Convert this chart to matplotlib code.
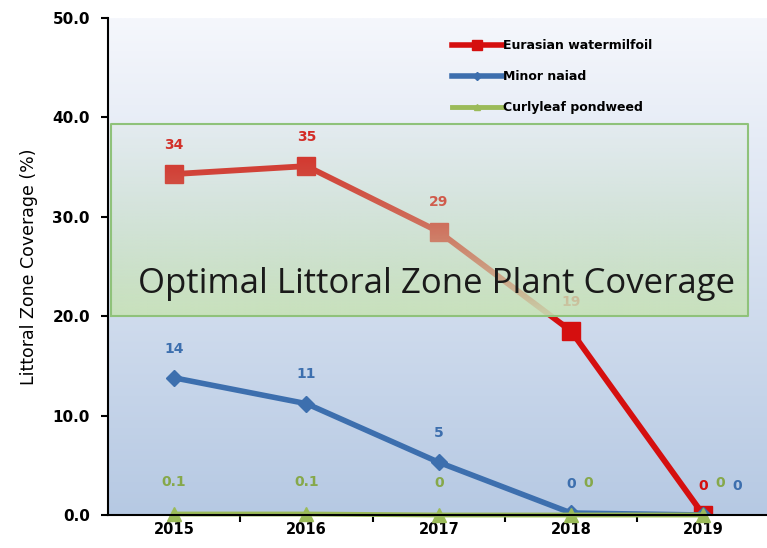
import numpy as np
import matplotlib
matplotlib.use("Agg")
import matplotlib.pyplot as plt
from matplotlib.colors import to_rgb
from matplotlib.lines import Line2D

years = ["2015", "2016", "2017", "2018", "2019"]
milfoil = [34.3, 35.1, 28.5, 18.5, 0.0]
naiad = [13.8, 11.2, 5.3, 0.2, 0.0]
pondweed = [0.1, 0.1, 0.0, 0.0, 0.0]
milfoil_lbl = ["34", "35", "29", "19", "0"]
naiad_lbl = ["14", "11", "5", "0", "0"]
pondweed_lbl = ["0.1", "0.1", "0", "0", "0"]
band_lo, band_hi = 20.0, 39.3
yticks = [0, 10, 20, 30, 40, 50]

fig = plt.figure(figsize=(7.67, 5.48), dpi=100)
ax = fig.add_axes([108/767, 33/548, 1 - 108/767, 497/548])
x = np.arange(len(years))
ax.set_xlim(-0.5, 4.48)
ax.set_ylim(0, 50)

# gradient background
top = np.array(to_rgb("#f5f7fc"))
bot = np.array(to_rgb("#b6c9e3"))
t = np.linspace(0, 1, 256)[:, None]
grad = (top * (1 - t) + bot * t)[:, None, :].repeat(2, axis=1)
ax.imshow(grad, extent=[-0.5, 4.48, 0, 50], aspect="auto", zorder=0, origin="upper")

red = "#d50f0f"
blue = "#3d6fae"
green = "#9bbb59"

ax.plot(x, milfoil, color=red, lw=4.2, marker="s", ms=13, zorder=3, solid_capstyle="butt")
ax.plot(x, naiad, color=blue, lw=4.0, marker="D", ms=8, zorder=3)
ax.plot(x, pondweed, color=green, lw=3.5, marker="^", ms=10, zorder=4, clip_on=False)

# band overlay with gradient alpha
bcol = np.array(to_rgb("#c8e2b8"))
tt = np.linspace(0, 1, 256)
alpha = 0.12 + 0.8 * tt ** 1.3
rgba = np.zeros((256, 2, 4))
rgba[:, :, :3] = bcol
rgba[:, :, 3] = alpha[:, None]
ax.imshow(rgba, extent=[-0.48, 4.34, band_lo, band_hi], aspect="auto", zorder=5, origin="upper")
ax.plot([-0.48, 4.34, 4.34, -0.48, -0.48], [band_lo, band_lo, band_hi, band_hi, band_lo],
        color="#8fc27a", lw=1.5, zorder=5)
ax.text(1.98, 23.2, "Optimal Littoral Zone Plant Coverage", fontsize=25, color="#1a1a1a",
        family="Open Sans", ha="center", va="center", zorder=7)

# data labels
lblfont = dict(fontsize=10, fontweight="bold", ha="center", va="bottom", family="DejaVu Sans")
for i in range(5):
    ax.annotate(milfoil_lbl[i], (x[i], milfoil[i]), xytext=(0, 16), textcoords="offset points",
                color=red, zorder=4, **lblfont)
for i in range(5):
    dx = 24 if i == 4 else 0
    ax.annotate(naiad_lbl[i], (x[i], naiad[i]), xytext=(dx, 16), textcoords="offset points",
                color=blue, zorder=4, **lblfont)
for i in range(5):
    dx = 12 if i >= 3 else 0
    ax.annotate(pondweed_lbl[i], (x[i], pondweed[i]), xytext=(dx, 18), textcoords="offset points",
                color="#86a84a", zorder=4, **lblfont)

ax.set_xticks(x)
ax.set_xticklabels(years, fontweight="bold", fontsize=10.5)
ax.set_xticks(x[:-1] + 0.5, minor=True)
ax.tick_params(axis="x", which="major", length=0, pad=5)
ax.tick_params(axis="x", which="minor", length=5, width=1.5, direction="out")
ax.set_yticks(yticks)
ax.set_yticklabels([f"{v:.1f}" for v in yticks], fontweight="bold", fontsize=11)
ax.tick_params(axis="y", length=5, width=1.5, pad=8)
ax.set_ylabel("Littoral Zone Coverage (%)", fontsize=12.5, labelpad=10)
for s in ["top", "right"]:
    ax.spines[s].set_visible(False)
for s in ["left", "bottom"]:
    ax.spines[s].set_linewidth(1.5)
    ax.spines[s].set_zorder(6)

handles = [Line2D([], [], color=red, lw=4, marker="s", ms=7),
           Line2D([], [], color=blue, lw=4, marker="D", ms=4),
           Line2D([], [], color=green, lw=3.5, marker="^", ms=5)]
leg = ax.legend(handles, ["Eurasian watermilfoil", "Minor naiad", "Curlyleaf pondweed"],
                loc="upper left", bbox_to_anchor=(0.505, 0.98), frameon=False,
                prop=dict(weight="bold", size=9), handlelength=4.0, handletextpad=0.1,
                labelspacing=1.45)
leg.set_zorder(8)

fig.savefig("out.png", dpi=100)
